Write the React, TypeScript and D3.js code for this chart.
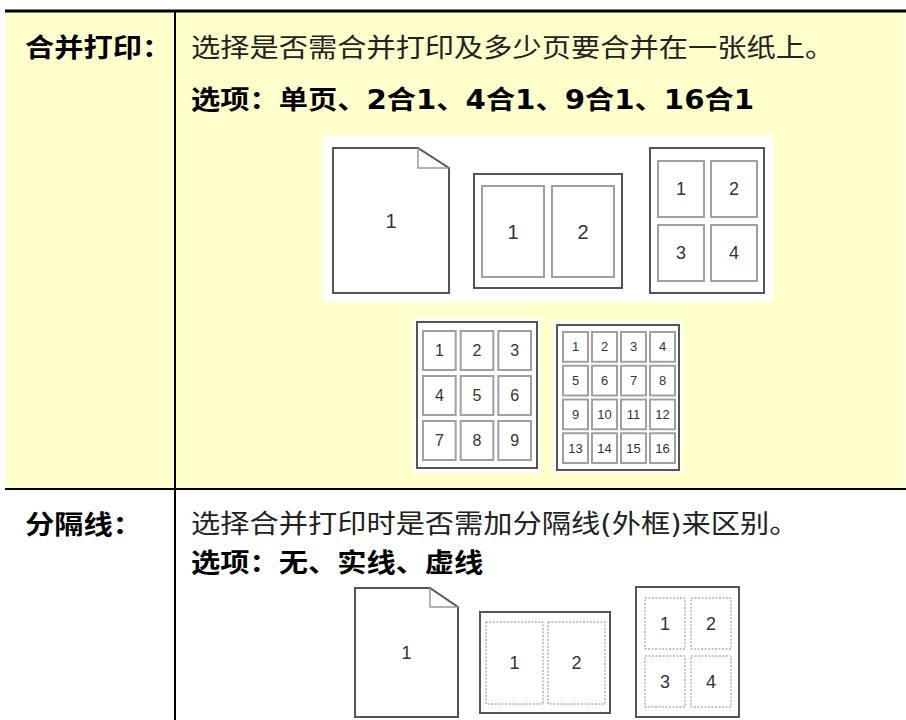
import React, { useEffect, useRef } from "react";
import * as d3 from "d3";

// table content
const rowLabels = ["合并打印：", "分隔线："];
const rowDescriptions = [
  "选择是否需合并打印及多少页要合并在一张纸上。",
  "选择合并打印时是否需加分隔线(外框)来区别。",
];
const optionPrefix = "选项：";
const nUpOptions = ["单页", "2合1", "4合1", "9合1", "16合1"];
const borderOptions = ["无", "实线", "虚线"];

// pages per sheet shown in the pictures
const nUpCounts = [1, 2, 4, 9, 16];
const borderSampleCounts = [1, 2, 4];

const gridOf = (n: number): [number, number] => {
  if (n === 2) return [2, 1];
  const c = Math.round(Math.sqrt(n));
  return [c, c];
};

type Sheet = {
  x: number;
  y: number;
  w: number;
  h: number;
  pad: [number, number, number, number]; // left, top, right, bottom
  gap: [number, number];
  font: number;
  fold?: [number, number];
};

// layout of the pictures (pixels)
const nUpSheets: Sheet[] = [
  { x: 333, y: 148, w: 116, h: 145, pad: [0, 0, 0, 0], gap: [0, 0], font: 20, fold: [31, 20] },
  { x: 474, y: 174, w: 148, h: 114, pad: [8, 12, 8, 11], gap: [8, 0], font: 20 },
  { x: 650, y: 148, w: 114, h: 145, pad: [8, 13, 7, 12], gap: [7, 8], font: 18 },
  { x: 417, y: 322, w: 120, h: 146, pad: [6, 9, 6, 8], gap: [5, 6], font: 16 },
  { x: 557, y: 325, w: 122, h: 145, pad: [6, 7, 4, 7], gap: [4, 4], font: 13 },
];
const borderSheets: Sheet[] = [
  { x: 355, y: 588, w: 103, h: 129, pad: [0, 0, 0, 0], gap: [0, 0], font: 18, fold: [28, 19] },
  { x: 480, y: 612, w: 130, h: 101, pad: [6, 10, 5, 9], gap: [5, 0], font: 18 },
  { x: 636, y: 587, w: 103, h: 130, pad: [9, 11, 8, 10], gap: [6, 7], font: 18 },
];
const whiteBoxes = [
  { x: 323, y: 135, w: 450, h: 167 },
  { x: 413, y: 318, w: 127, h: 155 },
  { x: 553, y: 321, w: 129, h: 152 },
];

const W = 906;
const H = 720;
const tableLeft = 5;
const dividerX = 175;
const topLineY = 11;
const separatorY = 489;
const textX = 191;
const cjkFont = "'DejaVu Sans', 'Noto Sans CJK SC', sans-serif";
const textScale = 1.125;

const drawSheet = (
  g: d3.Selection<SVGGElement, unknown, null, undefined>,
  s: Sheet,
  count: number,
  dashed: boolean
) => {
  const [cols, rows] = gridOf(count);
  const sg = g.append("g");
  if (s.fold) {
    const [fw, fh] = s.fold;
    sg.append("path")
      .attr(
        "d",
        `M${s.x},${s.y}H${s.x + s.w - fw}L${s.x + s.w},${s.y + fh}V${s.y + s.h}H${s.x}Z`
      )
      .attr("fill", "#fff")
      .attr("stroke", "#555")
      .attr("stroke-width", 2);
    sg.append("path")
      .attr("d", `M${s.x + s.w - fw},${s.y}V${s.y + fh}H${s.x + s.w}`)
      .attr("fill", "none")
      .attr("stroke", "#999")
      .attr("stroke-width", 1.5);
    sg.append("text")
      .attr("x", s.x + s.w / 2)
      .attr("y", s.y + s.h / 2)
      .attr("text-anchor", "middle")
      .attr("dominant-baseline", "central")
      .attr("font-family", "'Liberation Sans', Arial, sans-serif")
      .attr("font-size", s.font)
      .attr("fill", "#333")
      .text("1");
    return;
  }
  sg.append("rect")
    .attr("x", s.x)
    .attr("y", s.y)
    .attr("width", s.w)
    .attr("height", s.h)
    .attr("fill", "#fff")
    .attr("stroke", "#555")
    .attr("stroke-width", 2);

  const [pl, pt, pr, pb] = s.pad;
  const innerW = s.w - pl - pr;
  const innerH = s.h - pt - pb;
  const xs = d3
    .scaleBand<number>()
    .domain(d3.range(cols))
    .range([s.x + pl, s.x + s.w - pr])
    .paddingInner(cols > 1 ? s.gap[0] / ((innerW + s.gap[0]) / cols) : 0);
  const ys = d3
    .scaleBand<number>()
    .domain(d3.range(rows))
    .range([s.y + pt, s.y + s.h - pb])
    .paddingInner(rows > 1 ? s.gap[1] / ((innerH + s.gap[1]) / rows) : 0);

  const cells = d3.range(count).map((i) => ({
    c: i % cols,
    r: Math.floor(i / cols),
    n: i + 1,
  }));
  sg.selectAll("rect.cell")
    .data(cells)
    .join("rect")
    .attr("class", "cell")
    .attr("x", (d) => xs(d.c)!)
    .attr("y", (d) => ys(d.r)!)
    .attr("width", xs.bandwidth())
    .attr("height", ys.bandwidth())
    .attr("fill", "#fff")
    .attr("stroke", dashed ? "#8a8a8a" : "#a0a0a0")
    .attr("stroke-width", dashed ? 1 : 2)
    .attr("stroke-dasharray", dashed ? "2,1.5" : null);
  sg.selectAll("text.num")
    .data(cells)
    .join("text")
    .attr("class", "num")
    .attr("x", (d) => xs(d.c)! + xs.bandwidth() / 2)
    .attr("y", (d) => ys(d.r)! + ys.bandwidth() / 2)
    .attr("text-anchor", "middle")
    .attr("dominant-baseline", "central")
    .attr("font-family", "'Liberation Sans', Arial, sans-serif")
    .attr("font-size", s.font)
    .attr("fill", "#333")
    .text((d) => d.n);
};

const App: React.FC = () => {
  const svgRef = useRef<SVGSVGElement | null>(null);

  useEffect(() => {
    const svg = d3.select(svgRef.current).attr("width", W).attr("height", H);
    svg.selectAll("*").remove();

    // row backgrounds
    svg.append("rect")
      .attr("x", tableLeft)
      .attr("y", topLineY)
      .attr("width", W - 1 - tableLeft)
      .attr("height", separatorY - topLineY)
      .attr("fill", "#ffffcc");
    svg.append("rect")
      .attr("x", tableLeft)
      .attr("y", separatorY)
      .attr("width", W - 1 - tableLeft)
      .attr("height", H - separatorY)
      .attr("fill", "#fff");

    // table rules
    svg.append("line")
      .attr("x1", tableLeft)
      .attr("x2", W)
      .attr("y1", topLineY)
      .attr("y2", topLineY)
      .attr("stroke", "#000")
      .attr("stroke-width", 3);
    svg.append("line")
      .attr("x1", tableLeft)
      .attr("x2", W)
      .attr("y1", separatorY)
      .attr("y2", separatorY)
      .attr("stroke", "#000")
      .attr("stroke-width", 2);
    svg.append("line")
      .attr("x1", dividerX)
      .attr("x2", dividerX)
      .attr("y1", topLineY)
      .attr("y2", H)
      .attr("stroke", "#000")
      .attr("stroke-width", 2);

    const addText = (
      x: number,
      y: number,
      str: string,
      bold: boolean
    ) =>
      svg.append("text")
        .attr("transform", `translate(${x},${y}) scale(${textScale},1)`)
        .attr("font-family", cjkFont)
        .attr("font-size", 26)
        .attr("font-weight", bold ? "bold" : "normal")
        .attr("fill", bold ? "#000" : "#222")
        .text(str);

    // row 1
    addText(25, 57, rowLabels[0], true);
    addText(textX, 57, rowDescriptions[0], false);
    addText(textX, 109, optionPrefix + nUpOptions.join("、"), true);

    // row 2
    addText(25, 534, rowLabels[1], true);
    addText(textX, 533, rowDescriptions[1], false);
    addText(textX, 572, optionPrefix + borderOptions.join("、"), true);

    const pics = svg.append("g");
    whiteBoxes.forEach((b) =>
      pics.append("rect")
        .attr("x", b.x)
        .attr("y", b.y)
        .attr("width", b.w)
        .attr("height", b.h)
        .attr("fill", "#fff")
    );
    nUpCounts.forEach((n, i) => drawSheet(pics, nUpSheets[i], n, false));
    borderSampleCounts.forEach((n, i) =>
      drawSheet(pics, borderSheets[i], n, true)
    );
  }, []);

  return (
    <svg
      ref={svgRef}
      style={{ position: "absolute", left: 0, top: 0, display: "block" }}
    />
  );
};

export default App;
